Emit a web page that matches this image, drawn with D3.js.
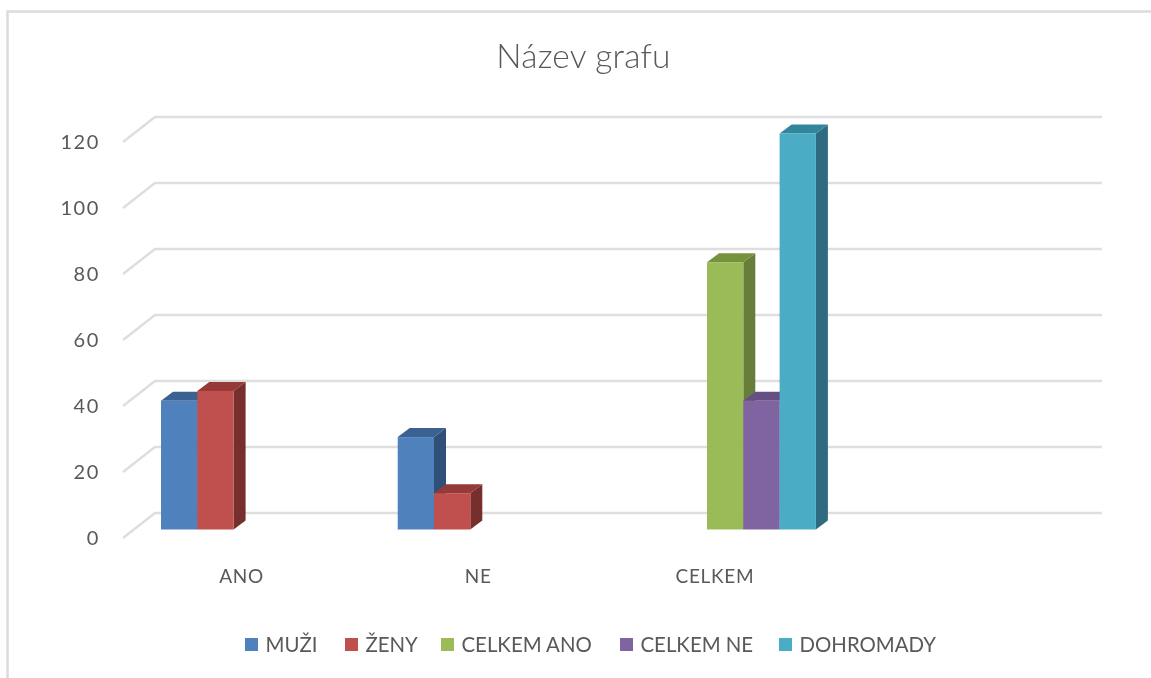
<!DOCTYPE html>
<html><head><meta charset="utf-8">
<script src="https://cdn.jsdelivr.net/npm/d3@7/dist/d3.min.js"></script>
<style>html,body{margin:0;padding:0;background:#fff}svg{display:block;filter:blur(0.4px)}text{font-family:Lato,"Open Sans",sans-serif;fill:#595959}</style>
</head><body><div id="chart"></div>
<script>
const categories = ["ANO", "NE", "CELKEM", ""];
const seriesNames = ["MUŽI", "ŽENY", "CELKEM ANO", "CELKEM NE", "DOHROMADY"];
const muzi = [39, 28, null, null];
const zeny = [42, 11, null, null];
const celkemAno = [null, null, 81, null];
const celkemNe = [null, null, 39, null];
const dohromady = [null, null, 120, null];
const seriesValues = [muzi, zeny, celkemAno, celkemNe, dohromady];
const yTicks = [0, 20, 40, 60, 80, 100, 120];
const frontColors = ["#4F81BD", "#C0504D", "#9BBB59", "#8064A2", "#4BACC6"];
const topColors = ["#3A6190", "#953A38", "#76923C", "#664F82", "#31859C"];
const sideColors = ["#2F5078", "#772F2D", "#677E3A", "#5A4673", "#2F6B80"];
const legendX = [245, 345, 441, 620, 779];

const W = 1151, H = 678;
const svg = d3.select("#chart").append("svg").attr("width", W).attr("height", H);

svg.append("path").attr("d", `M${W},11.5H7.5V${H}`).attr("fill", "none").attr("stroke", "#dcdcdc").attr("stroke-width", 2.5);

svg.append("text").attr("x", 583.5).attr("y", 68).attr("text-anchor", "middle")
  .style("font-size", "33.5px").style("font-weight", 300).style("letter-spacing", "0.2px").text("Název grafu");

const y = d3.scaleLinear().domain([0, 120]).range([513, 117]);
const wall = {dx: 32, dy: -25};
const depth = {dx: 12, dy: -9};
const barOffsetY = 16.5; // base of the bars relative to the wall floor

const x0 = d3.scaleBand().domain(categories).range([161, 161 + 236.7 * 4]);
const x1 = d3.scaleBand().domain(d3.range(5)).range([0, 181.5]);

// grid
const grid = svg.append("g");
yTicks.forEach(t => {
  const yy = y(t);
  grid.append("path")
    .attr("d", `M${155 - wall.dx},${yy - wall.dy}L155,${yy}H1102`)
    .attr("fill", "none").attr("stroke", "#dedede").attr("stroke-width", 2.5);
  svg.append("text").attr("x", 100).attr("y", yy + 31.5)
    .attr("text-anchor", "end").style("font-size", "20px").style("letter-spacing", "1.6px").text(t);
});

// bars
const marks = svg.append("g");
categories.forEach((c, ci) => {
  seriesValues.forEach((vals, si) => {
    const v = vals[ci];
    if (v == null) return;
    const xl = x0(c) + x1(si), w = x1.bandwidth();
    const yt = y(v) + barOffsetY, yb = y(0) + barOffsetY;
    const g = marks.append("g");
    g.append("path").attr("fill", sideColors[si])
      .attr("d", `M${xl + w},${yt}l${depth.dx},${depth.dy}V${yb + depth.dy}l${-depth.dx},${-depth.dy}Z`);
    g.append("path").attr("fill", topColors[si])
      .attr("d", `M${xl},${yt}l${depth.dx},${depth.dy}h${w}l${-depth.dx},${-depth.dy}Z`);
    g.append("rect").attr("x", xl).attr("y", yt).attr("width", w).attr("height", yb - yt).attr("fill", frontColors[si]);
  });
});

// category labels
categories.forEach(c => {
  svg.append("text").attr("x", x0(c) + 80.5).attr("y", 583).attr("text-anchor", "middle")
    .style("font-size", "19px").style("letter-spacing", "0.7px").text(c);
});

// legend
seriesNames.forEach((s, i) => {
  const g = svg.append("g").attr("transform", `translate(${legendX[i]},638)`);
  g.append("rect").attr("width", 13).attr("height", 13).attr("fill", frontColors[i]);
  g.append("text").attr("x", 20.5).attr("y", 14).style("font-size", "20.4px").text(s);
});
</script></body></html>
